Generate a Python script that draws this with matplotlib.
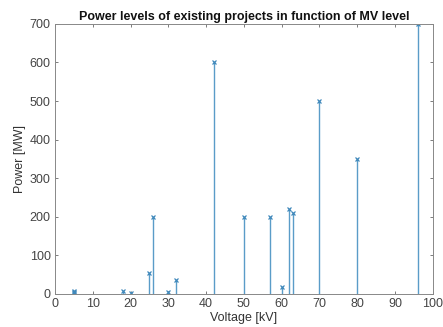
import matplotlib
matplotlib.use("Agg")
import matplotlib.pyplot as plt

voltage_kv = [5, 5, 5, 18, 20, 25, 26, 30, 32, 42, 50, 57, 60, 62, 63, 70, 80, 96]
power_mw = [2, 5, 8, 8, 3, 55, 200, 5, 35, 600, 200, 200, 18, 220, 210, 500, 350, 700]

x_ticks = list(range(0, 101, 10))
y_ticks = list(range(0, 701, 100))

plt.rcParams['font.family'] = ['Liberation Sans', 'DejaVu Sans']
fig = plt.figure(figsize=(4.43, 3.27), dpi=100)
ax = fig.add_axes([0.124, 0.101, 0.853, 0.826])

color = '#5a9cc8'
markerline, stemlines, baseline = ax.stem(voltage_kv, power_mw, basefmt=' ')
plt.setp(stemlines, color=color, linewidth=1.0)
plt.setp(markerline, color='#3f88bb', marker='x', markersize=3.2, markeredgewidth=0.9)

ax.set_xlim(0, 100)
ax.set_ylim(0, 700)
ax.set_xticks(x_ticks)
ax.set_yticks(y_ticks)
ax.tick_params(direction='in', length=2.5, width=0.6, labelsize=9, colors='#666666',
               top=True, right=True, pad=3)
ax.tick_params(labelcolor='#444444')
for s in ax.spines.values():
    s.set_color('#888888')
    s.set_linewidth(0.7)

ax.set_xlabel('Voltage [kV]', fontsize=9, color='#333333', labelpad=1)
ax.set_ylabel('Power [MW]', fontsize=9, color='#333333', labelpad=3)
ax.set_title('Power levels of existing projects in function of MV level',
             fontsize=9, fontweight='bold', color='#111111', pad=3)

fig.savefig('out.png', dpi=100)
